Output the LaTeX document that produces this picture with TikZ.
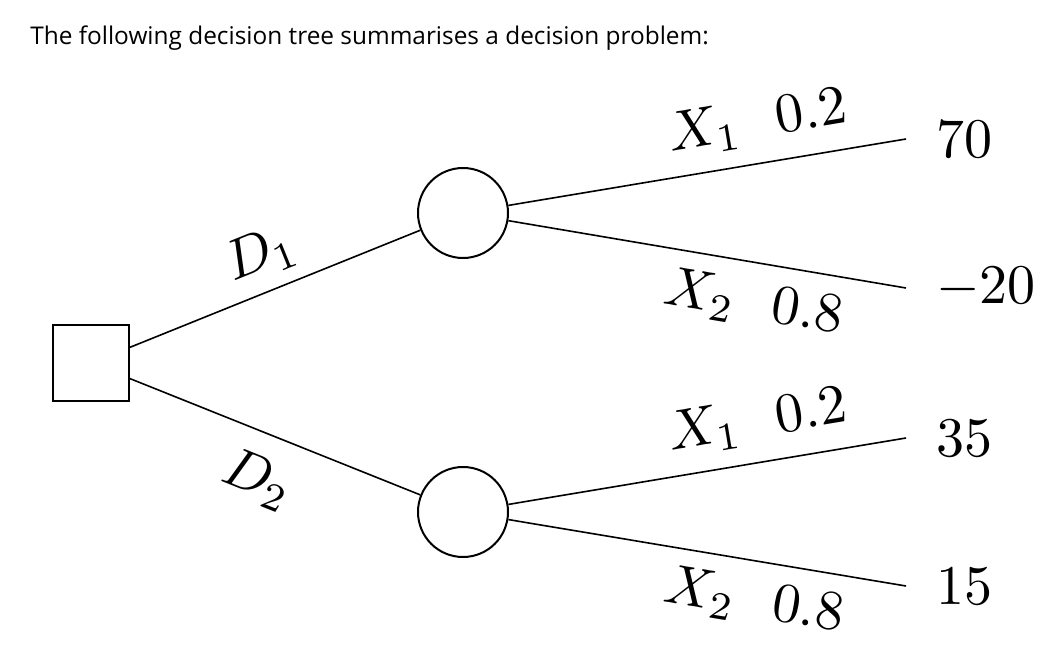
\documentclass[tikz,border=0pt]{standalone}
\usepackage{fontspec}
\newfontfamily\titlefont{Open Sans}
\usetikzlibrary{positioning}

% math text at 10pt, enlarged as in the scanned figure
\newcommand{\bigmath}[1]{\scalebox{2.8}{$#1$}}

\begin{document}
\begin{tikzpicture}[
  x=0.5pt, y=-0.5pt,
  decision/.style={draw, line width=1pt, minimum size=38pt, inner sep=0pt},
  chance/.style={draw, circle, line width=1pt, minimum size=45pt, inner sep=0pt},
  branch/.style={line width=0.8pt},
  brlabel/.style={sloped},
  payoff/.style={right=11.5pt}
]
\useasboundingbox (0,0) rectangle (1056,652);

% Heading
\node[anchor=base west, inner sep=0pt, font=\titlefont\fontsize{12.2}{14}\selectfont] (title) at (30,45) {The following decision tree summarises a decision problem:};

% Decision node and chance nodes
\node[decision] (d) at (91,363) {};
\node[chance] (c1) at (463,213) {};
\node[chance] (c2) at (463,512) {};

% Ends of the outcome branches
\coordinate (e1) at (906,139);
\coordinate (e2) at (906,288);
\coordinate (e3) at (906,438);
\coordinate (e4) at (906,586);

% Decisions
\draw[branch] (d) -- node[brlabel, above=3pt, pos=0.5] {\bigmath{D_1}} (c1);
\draw[branch] (d) -- node[brlabel, below=8pt, pos=0.5] {\bigmath{D_2}} (c2);

% Outcomes with probabilities
\draw[branch] (c1) -- node[brlabel, above=5pt, pos=0.645] {\bigmath{X_1\ \ 0.2}} (e1);
\draw[branch] (c1) -- node[brlabel, below=5pt, pos=0.635] {\bigmath{X_2\ \ 0.8}} (e2);
\draw[branch] (c2) -- node[brlabel, above=5pt, pos=0.645] {\bigmath{X_1\ \ 0.2}} (e3);
\draw[branch] (c2) -- node[brlabel, below=5pt, pos=0.635] {\bigmath{X_2\ \ 0.8}} (e4);

% Payoffs
\foreach \e/\v in {e1/70, e2/-20, e3/35, e4/15}{\node[payoff] (p\e) at (\e) {\bigmath{\v}};}
\end{tikzpicture}
\end{document}
